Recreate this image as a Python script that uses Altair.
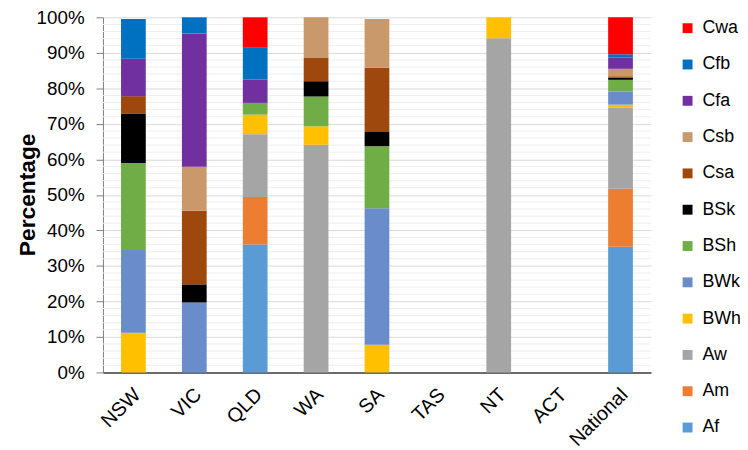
import altair as alt
import pandas as pd

states = ["NSW", "VIC", "QLD", "WA", "SA", "TAS", "NT", "ACT", "National"]
classes = ["Af", "Am", "Aw", "BWh", "BWk", "BSh", "BSk", "Csa", "Csb", "Cfa", "Cfb", "Cwa"]
class_colors = ["#5B9BD5", "#ED7D31", "#A5A5A5", "#FFC000", "#6A8CCB", "#70AD47",
                "#000000", "#9E480E", "#C9996B", "#7030A0", "#0070C0", "#FF0000"]

# percentage of each state in each climate class (order follows `states`)
Af  = [0, 0, 36.0, 0, 0, 0, 0, 0, 35.4]
Am  = [0, 0, 13.4, 0, 0, 0, 0, 0, 16.3]
Aw  = [0, 0, 17.7, 64.1, 0, 0, 94.1, 0, 22.8]
BWh = [11.2, 0, 5.5, 5.2, 7.8, 0, 5.9, 0, 0.9]
BWk = [23.3, 19.7, 0, 0, 38.4, 0, 0, 0, 3.7]
BSh = [24.5, 0, 3.3, 8.4, 17.5, 0, 0, 0, 3.3]
BSk = [13.8, 5.1, 0, 4.3, 4.0, 0, 0, 0, 0.6]
Csa = [5.0, 20.7, 0, 6.7, 18.1, 0, 0, 0, 0.4]
Csb = [0, 12.4, 0, 11.3, 13.7, 0, 0, 0, 2.1]
Cfa = [10.5, 37.5, 6.6, 0, 0, 0, 0, 0, 3.2]
Cfb = [11.2, 4.6, 9.1, 0, 0, 0, 0, 0, 0.9]
Cwa = [0, 0, 8.4, 0, 0, 0, 0, 0, 10.4]

series = {"Af": Af, "Am": Am, "Aw": Aw, "BWh": BWh, "BWk": BWk, "BSh": BSh,
          "BSk": BSk, "Csa": Csa, "Csb": Csb, "Cfa": Cfa, "Cfb": Cfb, "Cwa": Cwa}

major_ticks = [i / 10 for i in range(11)]
minor_ticks = [i / 50 for i in range(51) if i % 5 != 0]

rows = []
for ci, c in enumerate(classes):
    for s, v in zip(states, series[c]):
        if v > 0:
            rows.append({"State": s, "Class": c, "Value": v / 100, "idx": ci})
df = pd.DataFrame(rows)

FONT = "Liberation Sans"

y_scale = alt.Scale(domain=[0, 1], nice=False)
y_axis = alt.Axis(title="Percentage", format=".0%", values=major_ticks,
                  labelOverlap=False, labelFlush=False,
                  labelFontSize=19, labelFont=FONT, labelColor="#000000",
                  titleFont=FONT, titleFontSize=23, titleFontWeight="bold",
                  titleColor="#000000", titleX=-76, titleY=179,
                  titleAlign="center", titleBaseline="middle", titleAngle=-90,
                  tickSize=7, tickColor="#808080", domainColor="#808080",
                  labelPadding=12, gridColor="#D9D9D9")

minor = alt.Chart(pd.DataFrame({"t": minor_ticks})).mark_rule(
    color="#EEEEEE", strokeWidth=1
).encode(y=alt.Y("t:Q", scale=y_scale, axis=y_axis))

bars = alt.Chart(df).mark_bar(size=25).encode(
    x=alt.X("State:N", sort=states, scale=alt.Scale(domain=states),
            axis=alt.Axis(title=None, labelAngle=-45, labelFontSize=20,
                          labelFont=FONT, labelColor="#000000", ticks=False,
                          domainColor="#404040", domainWidth=1.5, labelPadding=12,
                          labelOffset=-3)),
    y=alt.Y("Value:Q", stack="zero", scale=y_scale, axis=y_axis),
    color=alt.Color("Class:N", scale=alt.Scale(domain=classes[::-1], range=class_colors[::-1]),
                    legend=alt.Legend(title=None, orient="none", legendX=582, legendY=2,
                                      symbolType="square", symbolSize=100,
                                      symbolStrokeWidth=0, labelFontSize=18,
                                      labelFont=FONT, labelColor="#000000",
                                      rowPadding=18.7, labelOffset=6)),
    order=alt.Order("idx:Q", sort="ascending"),
)

chart = alt.layer(minor, bars).properties(
    width=554, height=359,
    autosize=alt.AutoSizeParams(type="none"),
    padding={"left": 96, "top": 7, "right": 90, "bottom": 76},
).configure_view(stroke=None).configure_axis(gridColor="#D9D9D9")

chart.save("out.html", embed_options={"renderer": "svg", "actions": False})
